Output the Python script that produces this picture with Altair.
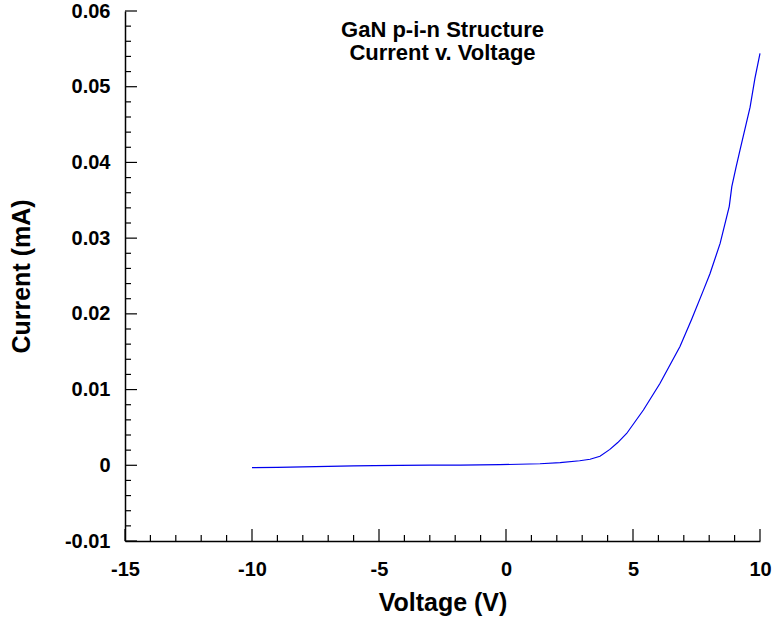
import altair as alt
import pandas as pd

# Measured I-V sweep of the GaN p-i-n diode
voltage = [-10, -9, -8.5, -8, -7, -6.5, -6, -5.2, -4.2, -3, -1.8, -0.25,
           1.34, 2.13, 2.9, 3.31, 3.7, 4.09, 4.4, 4.75, 5.41, 6.06, 6.85,
           7.31, 7.77, 8.03, 8.43, 8.79, 8.89, 9.06, 9.21, 9.61, 9.8, 10]
current = [-0.0003, -0.00028, -0.00025, -0.0002, -0.00015, -0.0001, -0.00008,
           -0.00005, 0.0, 0.00001, 0.00003, 0.00008, 0.0002, 0.00035, 0.0006,
           0.0008, 0.0012, 0.0021, 0.003, 0.0042, 0.0073, 0.0108, 0.0157,
           0.0193, 0.0231, 0.0253, 0.0293, 0.0342, 0.0368, 0.0394, 0.0416,
           0.0473, 0.0511, 0.0544]

# Axis ticks (drawn inward as rules)
x_major = [-15, -10, -5, 0, 5, 10]
x_minor = [-14, -13, -12, -11, -9, -8, -7, -6, -4, -3, -2, -1,
           1, 2, 3, 4, 6, 7, 8, 9]
y_major = [-0.01, 0.0, 0.01, 0.02, 0.03, 0.04, 0.05, 0.06]
y_minor = [-0.008, -0.006, -0.004, -0.002,
           0.002, 0.004, 0.006, 0.008,
           0.012, 0.014, 0.016, 0.018,
           0.022, 0.024, 0.026, 0.028,
           0.032, 0.034, 0.036, 0.038,
           0.042, 0.044, 0.046, 0.048,
           0.052, 0.054, 0.056, 0.058]

FONT = "Liberation Sans"
W, H = 635, 530

xscale = alt.Scale(domain=[-15, 10], nice=False, zero=False)
yscale = alt.Scale(domain=[-0.01, 0.06], nice=False, zero=False)

iv = pd.DataFrame({"V": voltage, "I": current})

x_axis = alt.Axis(
    title="Voltage (V)", values=x_major, grid=False, ticks=False,
    labelExpr="datum.value < 0 ? '-' + format(-datum.value, 'd') : format(datum.value, 'd')",
    labelFont=FONT, labelFontSize=20, labelFontWeight="bold", labelColor="black",
    labelPadding=18, titleFont=FONT, titleFontSize=25, titleFontWeight="bold",
    titleColor="black", titlePadding=11, domainColor="black", domainWidth=1.5,
    labelFlush=False, labelOverlap=False,
)
y_axis = alt.Axis(
    title="Current (mA)", values=y_major, grid=False, ticks=False,
    labelExpr="datum.value == 0 ? '0' : (datum.value < 0 ? '-' + format(-datum.value, '.2f') : format(datum.value, '.2f'))",
    labelFont=FONT, labelFontSize=20, labelFontWeight="bold", labelColor="black",
    labelPadding=15, titleFont=FONT, titleFontSize=25, titleFontWeight="bold",
    titleColor="black", titlePadding=30, domainColor="black", domainWidth=1.5,
    labelFlush=False, labelOverlap=False,
)

curve = alt.Chart(iv).mark_line(color="#0000ee", strokeWidth=1.2, interpolate="linear").encode(
    x=alt.X("V:Q", scale=xscale, axis=x_axis),
    y=alt.Y("I:Q", scale=yscale, axis=y_axis),
)

def xticks(vals, length):
    return alt.Chart(pd.DataFrame({"V": vals})).mark_rule(color="black", strokeWidth=1.2).encode(
        x=alt.X("V:Q", scale=xscale),
        y=alt.value(H), y2=alt.value(H - length),
    )

def yticks(vals, length):
    return alt.Chart(pd.DataFrame({"I": vals})).mark_rule(color="black", strokeWidth=1.2).encode(
        y=alt.Y("I:Q", scale=yscale),
        x=alt.value(0), x2=alt.value(length),
    )

chart = alt.layer(
    curve,
    xticks(x_major, 12), xticks(x_minor, 6),
    yticks(y_major, 12), yticks(y_minor, 6),
).properties(
    width=W, height=H,
    autosize=alt.AutoSizeParams(type="none"),
    padding={"left": 125, "top": 11, "right": 13, "bottom": 84},
    title=alt.TitleParams(
        text=["GaN p-i-n Structure", "Current v. Voltage"],
        font=FONT, fontSize=22, fontWeight="bold", color="black",
        anchor="middle", orient="top", baseline="top", lineHeight=23,
        offset=0, dy=64,
    ),
).configure(background="white").configure_view(stroke=None)

chart.save("out.html", embed_options={"renderer": "svg", "actions": False})
